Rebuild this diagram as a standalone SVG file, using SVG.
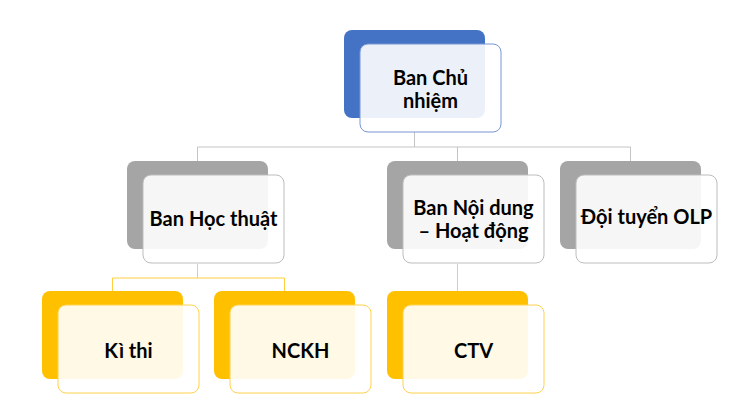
<svg xmlns="http://www.w3.org/2000/svg" width="735" height="405" viewBox="0 0 735 405">
<style>
.bk{stroke:none}
.fr{fill:#ffffff;fill-opacity:0.9;stroke-width:1}
.blue .bk{fill:#4472C4}.blue .fr{stroke:#7896D2}
.gray .bk{fill:#A5A5A5}.gray .fr{stroke:#BDBDBD}
.yel .bk{fill:#FFC000}.yel .fr{stroke:#FFD24D}
text{font-family:Lato,"Open Sans","DejaVu Sans",sans-serif;font-weight:700;font-size:20px;fill:#000;text-anchor:middle}
.cg{fill:none;stroke:#C4C4C4;stroke-width:1}
.cy{fill:none;stroke:#FFCF40;stroke-width:1}
</style>
<rect width="735" height="405" fill="#ffffff"/>
<g id="connectors">
<path class="cg" d="M414.5 132V147M197.5 147H630.5M197.5 147V161M457.5 147V161M630.5 147V161"/>
<path class="cy" d="M197.5 264V278M112.5 278H284.5M112.5 278V291M284.5 278V291M457.5 264V291"/>
</g>
<g id="ban-chu-nhiem" class="blue">
<rect class="bk" x="344" y="30" width="141" height="88" rx="8"/>
<rect class="fr" x="360" y="44" width="141" height="88" rx="8"/>
<text x="430.5" y="85">Ban Chủ</text>
<text x="430.5" y="108">nhiệm</text>
</g>
<g id="ban-hoc-thuat" class="gray">
<rect class="bk" x="127" y="161" width="141" height="88" rx="8"/>
<rect class="fr" x="143" y="175" width="141" height="88" rx="8"/>
<text x="213.5" y="226">Ban Học thuật</text>
</g>
<g id="ban-noi-dung" class="gray">
<rect class="bk" x="387" y="161" width="141" height="88" rx="8"/>
<rect class="fr" x="403" y="175" width="141" height="88" rx="8"/>
<text x="473.5" y="215">Ban Nội dung</text>
<text x="473.5" y="238">– Hoạt động</text>
</g>
<g id="doi-tuyen-olp" class="gray">
<rect class="bk" x="560" y="161" width="141" height="88" rx="8"/>
<rect class="fr" x="576" y="175" width="141" height="88" rx="8"/>
<text x="646.5" y="224">Đội tuyển OLP</text>
</g>
<g id="ki-thi" class="yel">
<rect class="bk" x="42" y="291" width="141" height="88" rx="8"/>
<rect class="fr" x="58" y="305" width="141" height="88" rx="8"/>
<text x="128.5" y="358">Kì thi</text>
</g>
<g id="nckh" class="yel">
<rect class="bk" x="214" y="291" width="141" height="88" rx="8"/>
<rect class="fr" x="230" y="305" width="141" height="88" rx="8"/>
<text x="300.5" y="358">NCKH</text>
</g>
<g id="ctv" class="yel">
<rect class="bk" x="387" y="291" width="141" height="88" rx="8"/>
<rect class="fr" x="403" y="305" width="141" height="88" rx="8"/>
<text x="473.5" y="358">CTV</text>
</g>
</svg>
